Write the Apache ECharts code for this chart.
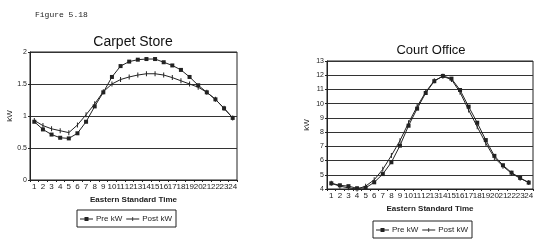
<!DOCTYPE html>
<html><head><meta charset="utf-8">
<script src="https://cdn.jsdelivr.net/npm/echarts@6/dist/echarts.min.js"></script>
<style>html,body{margin:0;padding:0;background:#fff}#c{width:550px;height:245px}</style>
</head><body><div id="c"></div>
<script>
const hours = ['1','2','3','4','5','6','7','8','9','10','11','12','13','14','15','16','17','18','19','20','21','22','23','24'];
const carpetPre  = [0.91,0.79,0.71,0.66,0.65,0.73,0.91,1.15,1.37,1.61,1.78,1.85,1.88,1.89,1.89,1.84,1.79,1.72,1.61,1.48,1.37,1.26,1.12,0.97];
const carpetPost = [0.93,0.85,0.80,0.77,0.74,0.86,1.02,1.19,1.38,1.50,1.57,1.61,1.64,1.66,1.66,1.64,1.60,1.55,1.50,1.45,1.37,1.26,1.12,0.97];
const courtPre   = [4.40,4.26,4.20,4.05,4.08,4.47,5.05,5.88,7.05,8.45,9.65,10.75,11.58,11.95,11.76,10.96,9.79,8.66,7.44,6.33,5.67,5.15,4.78,4.45];
const courtPost  = [4.40,4.20,4.08,4.00,4.20,4.65,5.38,6.35,7.40,8.65,9.80,10.82,11.62,11.92,11.70,10.80,9.55,8.38,7.22,6.20,5.60,5.10,4.75,4.45];
const carpetTicks = {min:0, max:2, interval:0.5};
const courtTicks  = {min:4, max:13, interval:1};
const titles = ['Carpet Store','Court Office'];
const seriesNames = ['Pre kW','Post kW'];

const ink = '#222';
const tick = 'path://M0,0h1v10h-1z';
const preIcon = 'path://M0,1.5h13v1h-13z M4.5,0h4v4h-4z';
const postIcon = 'path://M0,1.6h13v0.8h-13z M6.1,0h0.8v4h-0.8z';
const chart = echarts.init(document.getElementById('c'), null, {renderer:'canvas'});
const mkX = (g) => ({
  type:'category', gridIndex:g, data:hours, boundaryGap:true,
  name:'Eastern Standard Time', nameLocation:'middle', nameGap:12,
  nameTextStyle:{fontSize:8, fontFamily:'Liberation Sans', fontWeight:'bold', color:ink},
  axisLine:{lineStyle:{color:ink, width:1}},
  axisTick:{show:true, length:2, lineStyle:{color:ink}},
  axisLabel:{interval:0, fontSize:8, margin:3, color:ink, fontFamily:'Liberation Sans'},
  splitLine:{show:false}
});
const mkY = (g, t) => ({
  type:'value', gridIndex:g, min:t.min, max:t.max, interval:t.interval,
  name:'kW', nameLocation:'middle', nameGap:16, nameRotate:90,
  nameTextStyle:{fontSize:8, fontFamily:'Liberation Sans', color:ink},
  axisLine:{show:true, lineStyle:{color:ink, width:1}},
  axisTick:{show:true, length:2, lineStyle:{color:ink}},
  axisLabel:{fontSize:7, margin:3, color:ink, fontFamily:'Liberation Sans'},
  splitLine:{show:true, lineStyle:{color:'#333', width:1}}
});
const mkS = (name, data, g, isPre) => ({
  name, type:'line', xAxisIndex:g, yAxisIndex:g, data,
  symbol: isPre ? 'rect' : tick,
  symbolSize: isPre ? 4 : [1,5],
  showAllSymbol:true,
  lineStyle:{color:ink, width:1},
  itemStyle:{color:ink},
  animation:false
});
const legendStyle = (left, top) => ({
  data: [{name:seriesNames[0], icon:preIcon}, {name:seriesNames[1], icon:postIcon}],
  left, top, itemWidth:13, itemHeight:4, itemGap:4,
  borderColor:ink, borderWidth:1, padding:[5,4,4,3], borderRadius:0,
  textStyle:{fontSize:8, color:ink, fontFamily:'Liberation Sans', padding:[0,0,0,-2]},
  selectedMode:false
});
chart.setOption({
  animation:false,
  backgroundColor:'#fff',
  title:[
    {text:'Figure 5.18', left:30, top:6, textStyle:{fontSize:8, fontWeight:'normal', fontFamily:'Liberation Mono', color:ink}},
    {text:titles[0], left:128, top:30, textAlign:'center', textStyle:{fontSize:14, fontWeight:'normal', fontFamily:'Liberation Sans', color:'#111'}},
    {text:titles[1], left:426, top:39, textAlign:'center', textStyle:{fontSize:13, fontWeight:'normal', fontFamily:'Liberation Sans', color:'#111'}}
  ],
  grid:[
    {left:30, top:52, width:207, height:128, show:true, borderColor:ink, borderWidth:1, backgroundColor:'transparent'},
    {left:327, top:61, width:206, height:128, show:true, borderColor:ink, borderWidth:1, backgroundColor:'transparent'}
  ],
  xAxis:[mkX(0), mkX(1)],
  yAxis:[mkY(0, carpetTicks), mkY(1, courtTicks)],
  legend:[
    legendStyle(77, 210),
    legendStyle(373, 221)
  ],
  series:[
    mkS(seriesNames[0], carpetPre, 0, true),
    mkS(seriesNames[1], carpetPost, 0, false),
    mkS(seriesNames[0], courtPre, 1, true),
    mkS(seriesNames[1], courtPost, 1, false)
  ]
});
</script></body></html>
